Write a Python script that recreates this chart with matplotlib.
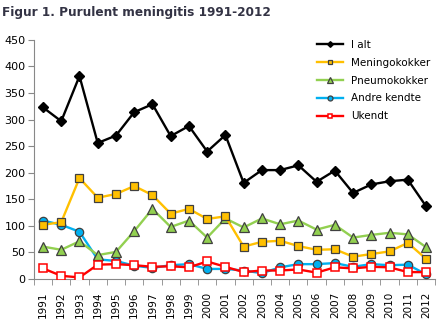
import numpy as np
import matplotlib
matplotlib.use('Agg')
import matplotlib.pyplot as plt

years = list(range(1991, 2013))
i_alt = [323, 297, 382, 256, 270, 314, 329, 269, 288, 240, 271, 181,
         205, 205, 214, 183, 204, 162, 178, 184, 187, 137]
meningo = [102, 107, 190, 153, 160, 175, 158, 123, 132, 113, 118, 61,
           70, 72, 62, 55, 56, 42, 47, 52, 68, 38]
pneumo = [61, 55, 71, 45, 51, 90, 132, 98, 110, 78, 114, 97,
          114, 103, 110, 93, 102, 78, 83, 87, 84, 60]
andre = [110, 102, 89, 37, 34, 25, 21, 26, 28, 19, 19, 16,
         11, 22, 28, 28, 30, 23, 28, 26, 27, 9]
ukendt = [20, 6, 3, 27, 28, 26, 23, 24, 22, 33, 23, 13,
          16, 16, 18, 12, 22, 20, 23, 22, 13, 13]

plt.rcParams['font.family'] = ['DejaVu Sans']

fig = plt.figure(figsize=(4.4, 3.22), dpi=100)
ax = fig.add_axes([0.077, 0.1335, 0.912, 0.7425])

edge = '#404040'
ax.plot(years, i_alt, color='black', lw=1.7, marker='D', ms=4.8,
        mfc='black', mec='black', label='I alt', zorder=6)
ax.plot(years, meningo, color='#FFC000', lw=1.7, marker='s', ms=6,
        mfc='#FFC000', mec=edge, mew=0.9, label='Meningokokker', zorder=5)
ax.plot(years, pneumo, color='#92D050', lw=1.7, marker='^', ms=6.5,
        mfc='#92D050', mec=edge, mew=0.9, label='Pneumokokker', zorder=4)
ax.plot(years, andre, color='#00B0F0', lw=1.7, marker='o', ms=6,
        mfc='#00B0F0', mec=edge, mew=0.9, label='Andre kendte', zorder=3)
ax.plot(years, ukendt, color='#FF0000', lw=1.7, marker='s', ms=6,
        mfc='white', mec='#FF0000', mew=1.1, label='Ukendt', zorder=7)

ax.set_xlim(1990.5, 2012.5)
ax.set_ylim(0, 450)
ax.set_yticks(np.arange(0, 451, 50))
ax.set_xticks(years)
ax.set_xticklabels([str(y) for y in years], rotation=90, fontsize=7.5)
ax.set_xticks(np.arange(1990.5, 2013, 1), minor=True)
ax.tick_params(axis='x', which='major', length=0, pad=9)
ax.tick_params(axis='x', which='minor', length=4, color='#888888', direction='out')
ax.tick_params(axis='y', length=4, color='#888888', labelsize=8, pad=2)

for s in ['top', 'right']:
    ax.spines[s].set_visible(False)
for s in ['left', 'bottom']:
    ax.spines[s].set_color('#888888')

fig.text(0.005, 0.98, 'Figur 1. Purulent meningitis 1991-2012',
         fontsize=8.7, fontweight='bold', color='#333344', va='top', ha='left')

leg = ax.legend(loc='upper left', bbox_to_anchor=(0.70, 0.905),
                bbox_transform=fig.transFigure, frameon=False, fontsize=7.5,
                handlelength=2.5, labelspacing=0.75, handletextpad=0.7,
                markerscale=0.6)

fig.savefig('out.png', dpi=100)
